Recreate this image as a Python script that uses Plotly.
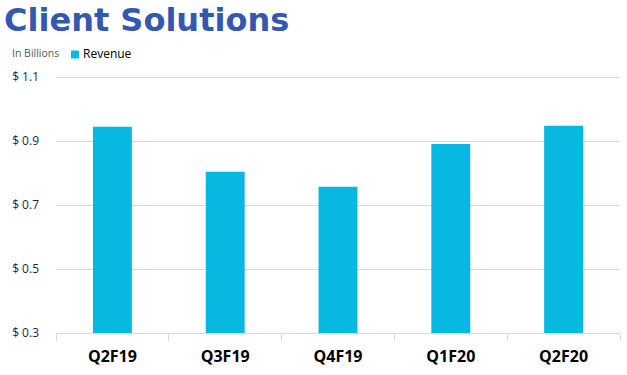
import plotly.graph_objects as go

categories = ["Q2F19", "Q3F19", "Q4F19", "Q1F20", "Q2F20"]
revenue = [0.945, 0.804, 0.757, 0.891, 0.948]
y_tick_vals = [0.3, 0.5, 0.7, 0.9, 1.1]
y_tick_text = ["$ 0.3", "$ 0.5", "$ 0.7", "$ 0.9", "$ 1.1"]

fig = go.Figure()
fig.add_trace(go.Bar(
    x=categories, y=revenue, name="Revenue",
    marker=dict(color="#07B8E0", line=dict(width=0)),
    width=0.345,
))

H = 259  # plot-area height in px
fig.update_layout(
    width=627, height=375,
    margin=dict(l=56, r=7, t=74, b=42),
    paper_bgcolor="white", plot_bgcolor="white",
    showlegend=False,
    bargap=0.65,
    font=dict(family="Open Sans, Noto Sans, sans-serif"),
)

fig.update_yaxes(
    range=[0.3, 1.11], tickvals=y_tick_vals, ticktext=y_tick_text,
    showgrid=True, gridcolor="#D9D9D9", gridwidth=1,
    zeroline=False, showline=False,
    tickfont=dict(size=12, color="#1F1F3F"),
    ticklabelstandoff=16,
)
fig.update_xaxes(
    showline=True, linecolor="#D9D9D9", linewidth=1,
    ticks="outside", tickson="boundaries", ticklen=7, tickcolor="#D9D9D9",
    tickfont=dict(size=16, color="black", family="Open Sans, Noto Sans, sans-serif", weight="bold"),
    ticklabelstandoff=9,
)

fig.add_annotation(
    text="<b>Client Solutions</b>", xref="paper", yref="paper",
    x=-54/564, y=1 + 54/H, xanchor="left", yanchor="middle",
    showarrow=False,
    font=dict(family="DejaVu Sans, Verdana, sans-serif", size=32, color="#3457B0"),
)
fig.add_annotation(
    text="In Billions", xref="paper", yref="paper",
    x=-46/564, y=1 + 21/H, xanchor="left", yanchor="middle",
    showarrow=False,
    font=dict(family="Open Sans, sans-serif", size=10.5, color="#595959"),
)
fig.add_shape(
    type="rect", xref="paper", yref="paper",
    x0=15/564, x1=23/564, y0=1 + 15.5/H, y1=1 + 23.5/H,
    fillcolor="#07B8E0", line=dict(width=0),
)
fig.add_annotation(
    text="Revenue", xref="paper", yref="paper",
    x=25/564, y=1 + 20/H, xanchor="left", yanchor="middle",
    showarrow=False,
    font=dict(family="Open Sans, sans-serif", size=12, color="black"),
)

fig.write_html("out.html", config={"displayModeBar": False},
               post_script="document.body.style.margin='0';")
